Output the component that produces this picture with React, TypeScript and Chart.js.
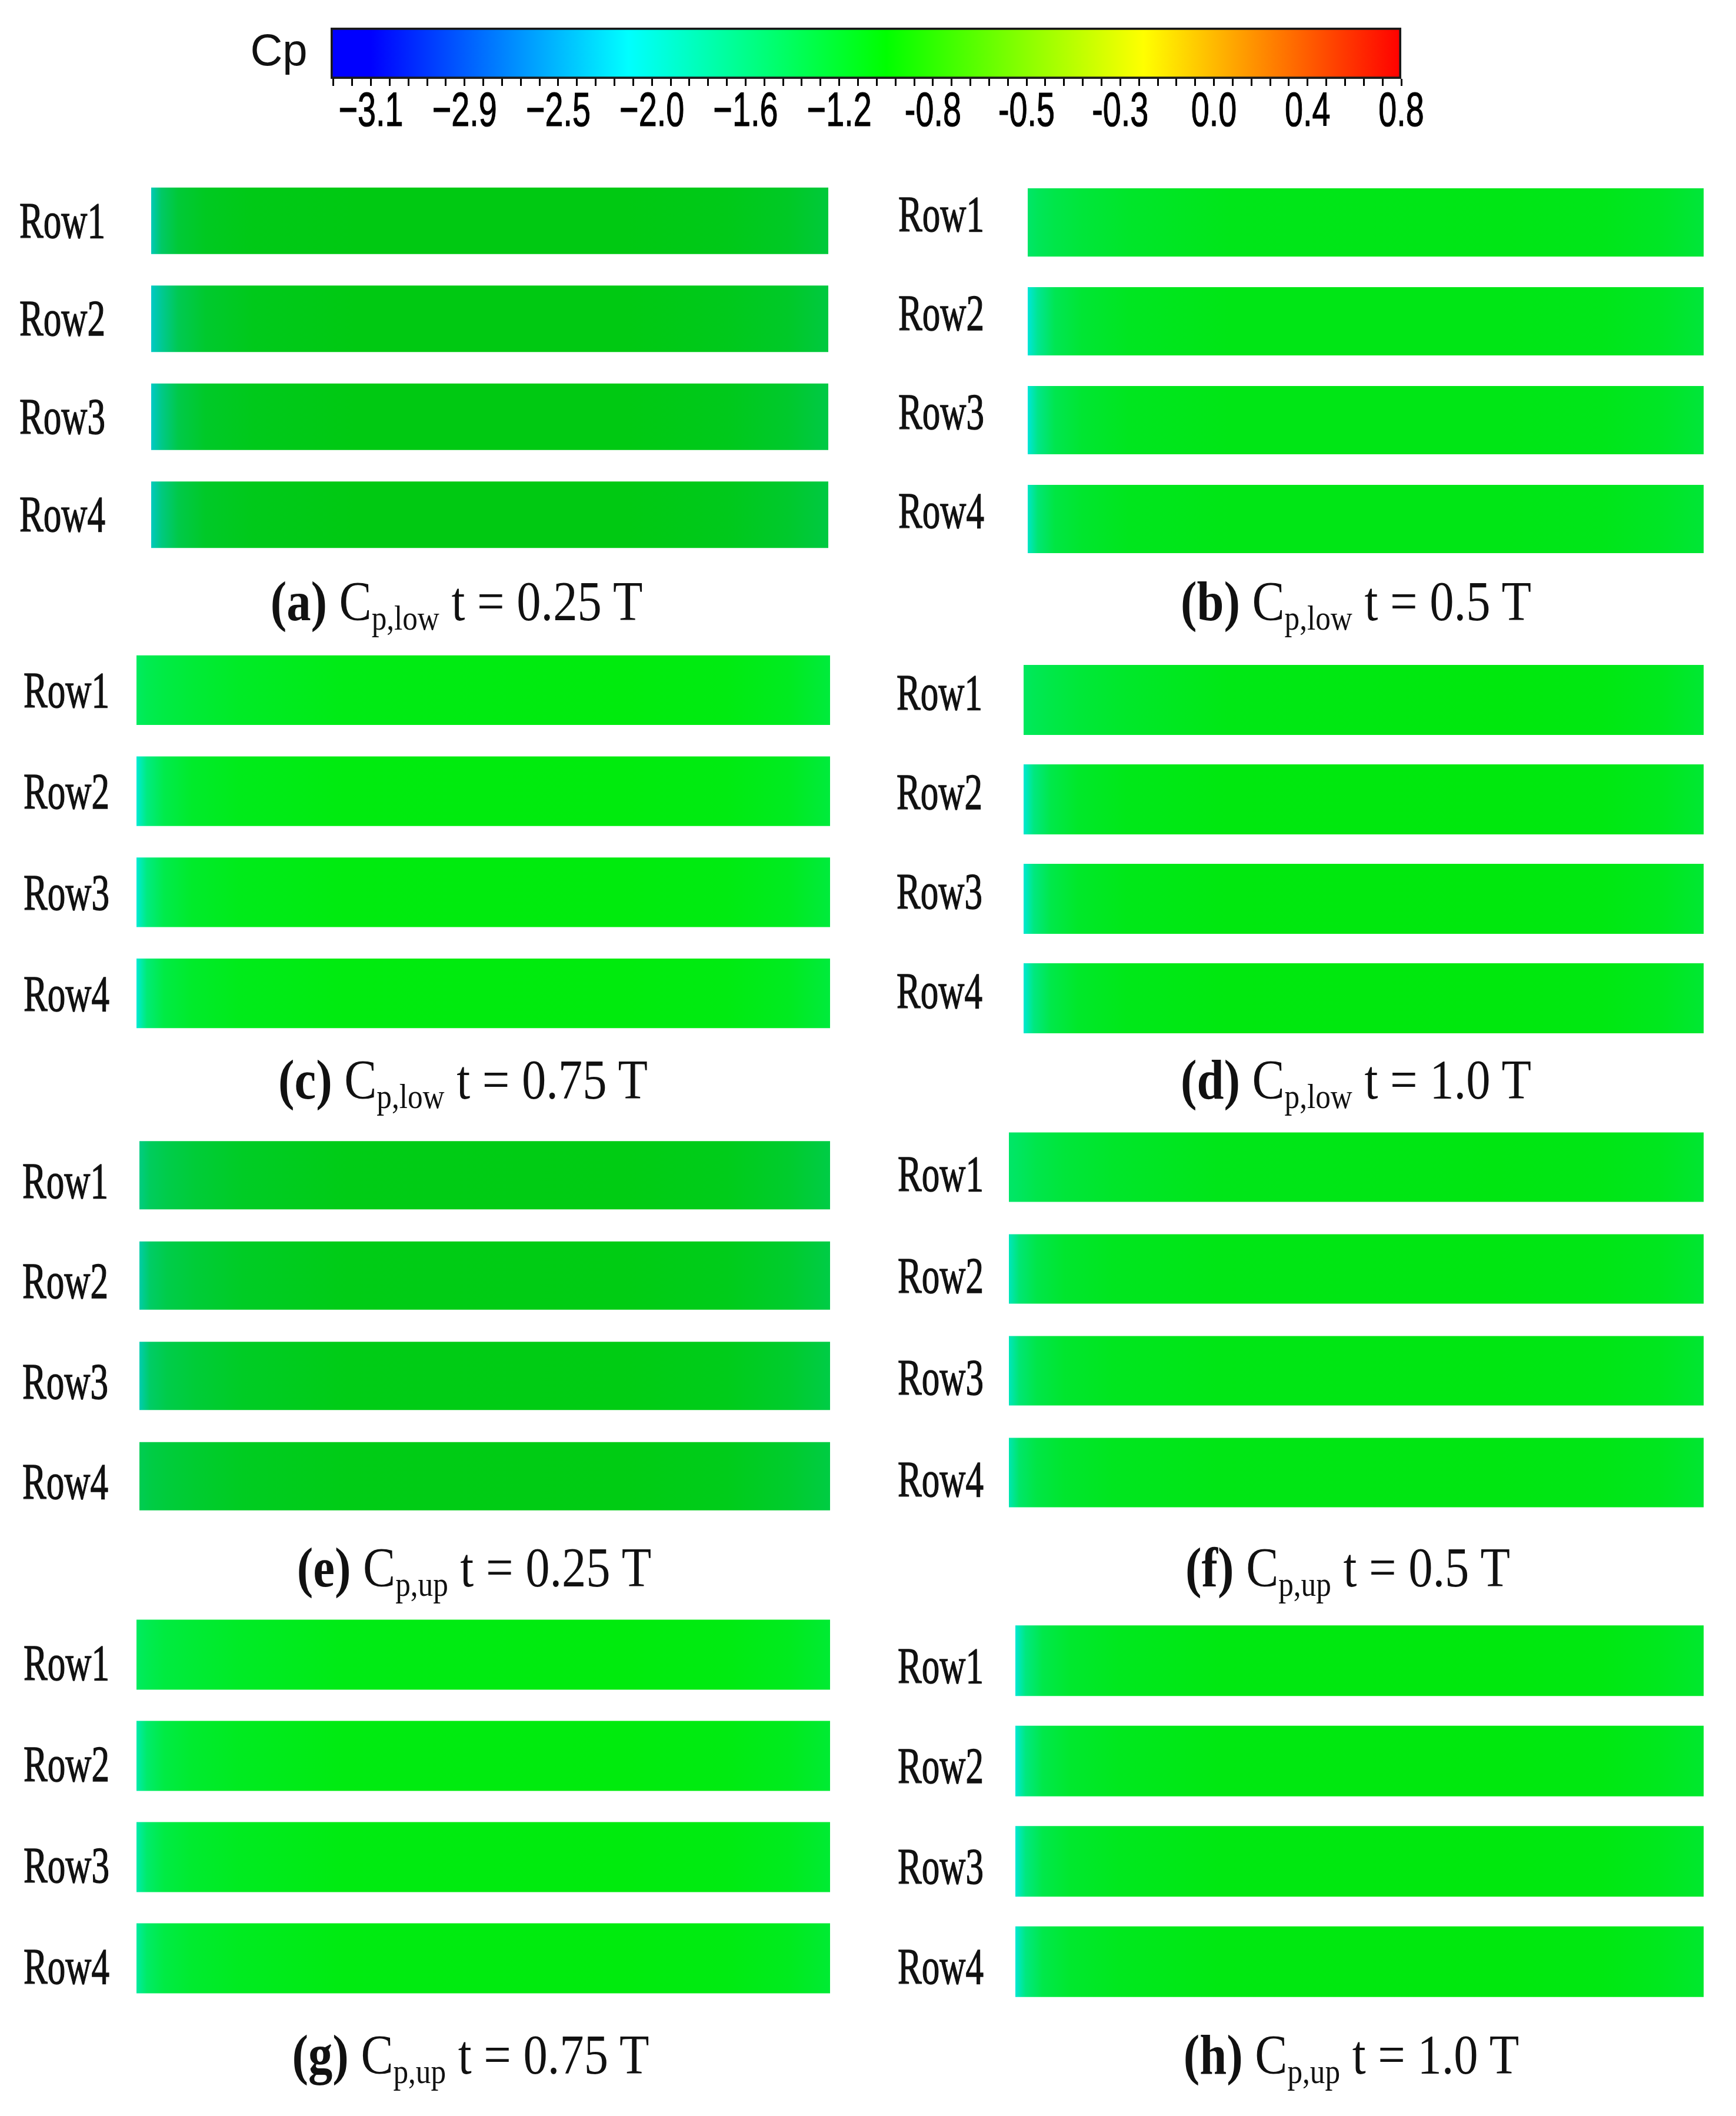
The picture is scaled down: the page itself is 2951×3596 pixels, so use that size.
import React, { useEffect, useRef } from 'react';
import { Chart, registerables } from 'chart.js';

Chart.register(...registerables);

// ---------------- data ----------------
const cpTickValues = [-3.1, -2.9, -2.5, -2.0, -1.6, -1.2, -0.8, -0.5, -0.3, 0.0, 0.4, 0.8];
const cpTickLabels = ['−3.1', '−2.9', '−2.5', '−2.0', '−1.6', '−1.2', '-0.8', '-0.5', '-0.3', '0.0', '0.4', '0.8'];
const colorbarLabel = ['Cp'];
const rowLabels = ['Row1', 'Row2', 'Row3', 'Row4'];
const chordRange = [0, 1];
// chordwise stations (x/c) at which Cp is sampled
const chordStations = [0, 0.015, 0.04, 0.08, 0.15, 0.3, 0.7, 0.85, 0.94, 1.0];

const cpLow025 = [
  [-2.0, -1.55, -1.3, -1.18, -1.12, -1.1, -1.1, -1.13, -1.2, -1.32],
  [-2.1, -1.8, -1.45, -1.25, -1.15, -1.1, -1.1, -1.15, -1.22, -1.35],
  [-2.1, -1.75, -1.4, -1.22, -1.15, -1.1, -1.1, -1.15, -1.24, -1.38],
  [-2.05, -1.7, -1.4, -1.22, -1.14, -1.1, -1.1, -1.15, -1.24, -1.36],
];
const cpLow05 = [
  [-1.5, -1.42, -1.35, -1.28, -1.2, -1.12, -1.1, -1.12, -1.18, -1.28],
  [-2.05, -1.7, -1.4, -1.25, -1.16, -1.1, -1.1, -1.12, -1.18, -1.28],
  [-2.05, -1.65, -1.38, -1.24, -1.15, -1.1, -1.1, -1.12, -1.18, -1.28],
  [-1.95, -1.55, -1.32, -1.22, -1.14, -1.1, -1.1, -1.12, -1.18, -1.26],
];
const cpLow075 = [
  [-1.45, -1.38, -1.32, -1.26, -1.18, -1.1, -1.06, -1.08, -1.15, -1.28],
  [-2.0, -1.6, -1.35, -1.2, -1.12, -1.07, -1.06, -1.08, -1.15, -1.28],
  [-2.0, -1.6, -1.35, -1.2, -1.12, -1.07, -1.06, -1.08, -1.15, -1.28],
  [-2.0, -1.55, -1.32, -1.2, -1.12, -1.07, -1.06, -1.08, -1.15, -1.28],
];
const cpLow10 = [
  [-1.45, -1.4, -1.34, -1.27, -1.2, -1.1, -1.06, -1.08, -1.14, -1.24],
  [-2.0, -1.6, -1.35, -1.2, -1.12, -1.07, -1.06, -1.08, -1.14, -1.24],
  [-2.0, -1.6, -1.35, -1.2, -1.12, -1.07, -1.06, -1.08, -1.14, -1.24],
  [-2.0, -1.6, -1.35, -1.2, -1.12, -1.07, -1.06, -1.08, -1.14, -1.24],
];
const cpUp025 = [
  [-1.7, -1.5, -1.4, -1.3, -1.2, -1.12, -1.1, -1.14, -1.24, -1.38],
  [-1.9, -1.55, -1.4, -1.3, -1.2, -1.12, -1.1, -1.14, -1.24, -1.38],
  [-1.95, -1.55, -1.4, -1.3, -1.2, -1.12, -1.1, -1.14, -1.24, -1.38],
  [-1.45, -1.38, -1.32, -1.26, -1.18, -1.12, -1.1, -1.14, -1.24, -1.36],
];
const cpUp05 = [
  [-1.5, -1.45, -1.36, -1.28, -1.2, -1.12, -1.08, -1.1, -1.15, -1.24],
  [-1.9, -1.55, -1.35, -1.22, -1.15, -1.1, -1.08, -1.1, -1.15, -1.24],
  [-1.9, -1.55, -1.35, -1.22, -1.15, -1.1, -1.08, -1.1, -1.15, -1.24],
  [-1.85, -1.5, -1.33, -1.22, -1.15, -1.1, -1.08, -1.1, -1.15, -1.24],
];
const cpUp075 = [
  [-1.45, -1.38, -1.3, -1.25, -1.18, -1.1, -1.06, -1.08, -1.14, -1.24],
  [-1.8, -1.5, -1.32, -1.22, -1.15, -1.08, -1.06, -1.08, -1.14, -1.24],
  [-1.8, -1.5, -1.32, -1.22, -1.15, -1.08, -1.06, -1.08, -1.14, -1.24],
  [-1.75, -1.48, -1.32, -1.22, -1.15, -1.08, -1.06, -1.08, -1.14, -1.24],
];
const cpUp10 = [
  [-2.0, -1.6, -1.35, -1.22, -1.14, -1.08, -1.06, -1.08, -1.14, -1.22],
  [-2.0, -1.6, -1.35, -1.22, -1.14, -1.08, -1.06, -1.08, -1.14, -1.22],
  [-2.0, -1.6, -1.35, -1.22, -1.14, -1.08, -1.06, -1.08, -1.14, -1.22],
  [-2.0, -1.6, -1.35, -1.22, -1.14, -1.08, -1.06, -1.08, -1.14, -1.22],
];

const panelLetters = ['a', 'b', 'c', 'd', 'e', 'f', 'g', 'h'];
const panelSurfaces = ['low', 'low', 'low', 'low', 'up', 'up', 'up', 'up'];
const panelTimes = ['0.25', '0.5', '0.75', '1.0', '0.25', '0.5', '0.75', '1.0'];
const panelCp = [cpLow025, cpLow05, cpLow075, cpLow10, cpUp025, cpUp05, cpUp075, cpUp10];

// ---------------- style / layout ----------------
const colormapStops: [number, number[]][] = [
  [0, [0, 0, 255]],
  [0.25, [0, 255, 255]],
  [0.5, [0, 255, 0]],
  [0.75, [255, 255, 0]],
  [1, [255, 0, 0]],
];
// colour-bar index axis starts a little before the first label (blue end cap)
const colorbarIndexMin = -0.43;

const panelLayout = [
  { colLeft: 0, barL: 257, barR: 1408, row1Top: 319, row4Bottom: 931, barH: 113, labelX: 106, labelDy: 6, capX: 776, capBase: 1054, shade: 0.79 },
  { colLeft: 1450, barL: 1747, barR: 2896, row1Top: 320, row4Bottom: 940, barH: 116, labelX: 1600, labelDy: -8, capX: 2305, capBase: 1054, shade: 0.9 },
  { colLeft: 0, barL: 232, barR: 1411, row1Top: 1114, row4Bottom: 1747, barH: 118, labelX: 113, labelDy: 7, capX: 787, capBase: 1867, shade: 0.92 },
  { colLeft: 1450, barL: 1740, barR: 2896, row1Top: 1130, row4Bottom: 1756, barH: 119, labelX: 1597, labelDy: -6, capX: 2305, capBase: 1867, shade: 0.91 },
  { colLeft: 0, barL: 237, barR: 1411, row1Top: 1939, row4Bottom: 2567, barH: 116, labelX: 111, labelDy: 16, capX: 806, capBase: 2696, shade: 0.8 },
  { colLeft: 1450, barL: 1715, barR: 2896, row1Top: 1924, row4Bottom: 2561, barH: 118, labelX: 1599, labelDy: 18, capX: 2291, capBase: 2696, shade: 0.9 },
  { colLeft: 0, barL: 232, barR: 1411, row1Top: 2752, row4Bottom: 3387, barH: 119, labelX: 113, labelDy: 20, capX: 800, capBase: 3524, shade: 0.92 },
  { colLeft: 1450, barL: 1726, barR: 2896, row1Top: 2762, row4Bottom: 3394, barH: 120, labelX: 1599, labelDy: 15, capX: 2297, capBase: 3524, shade: 0.91 },
];

const SERIF = '"Liberation Serif", "Times New Roman", serif';
const SANS = '"Liberation Sans", Arial, sans-serif';

// ---------------- helpers ----------------
function cpToFraction(cp: number): number {
  const n = cpTickValues.length;
  if (cp <= cpTickValues[0]) return 0;
  for (let i = 1; i < n; i++) {
    if (cp <= cpTickValues[i]) {
      const t = (cp - cpTickValues[i - 1]) / (cpTickValues[i] - cpTickValues[i - 1]);
      return (i - 1 + t) / (n - 1);
    }
  }
  return 1;
}

function fractionToRgb(f: number, shade = 1): string {
  let c = colormapStops[colormapStops.length - 1][1];
  for (let i = 1; i < colormapStops.length; i++) {
    const [f1, c1] = colormapStops[i];
    const [f0, c0] = colormapStops[i - 1];
    if (f <= f1) {
      const t = Math.max(0, (f - f0) / (f1 - f0));
      c = [0, 1, 2].map((k) => c0[k] + (c1[k] - c0[k]) * t);
      break;
    }
  }
  return `rgb(${Math.round(c[0] * shade)}, ${Math.round(c[1] * shade)}, ${Math.round(c[2] * shade)})`;
}

function drawScaledText(ctx: CanvasRenderingContext2D, text: string, x: number, y: number, sx: number, stroke: number) {
  ctx.save();
  ctx.translate(x, y);
  ctx.scale(sx, 1);
  ctx.fillText(text, 0, 0);
  if (stroke) ctx.strokeText(text, 0, 0);
  ctx.restore();
}

// y-category labels (Row1..Row4, Cp) drawn at the category scale's pixel positions
const categoryLabelPlugin = {
  id: 'categoryLabels',
  afterDraw(chart: any, _args: any, opts: any) {
    const ys = chart.scales.y;
    if (!ys) return;
    const ctx = chart.ctx;
    ctx.save();
    ctx.fillStyle = opts.color || '#111';
    ctx.strokeStyle = opts.color || '#111';
    ctx.lineWidth = opts.stroke || 0;
    ctx.font = opts.font;
    ctx.textAlign = 'center';
    ctx.textBaseline = 'middle';
    (chart.data.labels as string[]).forEach((lab, i) => {
      drawScaledText(ctx, lab, opts.x, ys.getPixelForValue(i) + (opts.dy || 0), opts.scaleX || 1, opts.stroke || 0);
    });
    ctx.restore();
  },
};

// condensed colour-bar tick labels, placed at the x scale's pixel for each index
const condensedTickPlugin = {
  id: 'condensedTicks',
  afterDraw(chart: any, _args: any, opts: any) {
    const xs = chart.scales.x;
    if (!xs || !opts.labels) return;
    const ctx = chart.ctx;
    ctx.save();
    ctx.fillStyle = opts.color || '#000';
    ctx.strokeStyle = opts.color || '#000';
    ctx.lineWidth = opts.stroke || 0;
    ctx.font = opts.font;
    ctx.textAlign = 'center';
    ctx.textBaseline = 'middle';
    (opts.labels as string[]).forEach((lab, i) => {
      drawScaledText(ctx, lab, xs.getPixelForValue(i), xs.top + opts.dy, opts.scaleX || 1, opts.stroke || 0);
    });
    ctx.restore();
  },
};

// ---------------- components ----------------
function ColorBar() {
  const ref = useRef<HTMLCanvasElement>(null);
  const canvasLeft = 380;
  const W = 2100;
  const H = 250;
  useEffect(() => {
    const nTicks = cpTickValues.length;
    const maxIdx = nTicks - 1;
    const chart = new Chart(ref.current as HTMLCanvasElement, {
      type: 'bar',
      data: {
        labels: colorbarLabel,
        datasets: [
          {
            data: [[colorbarIndexMin, maxIdx]] as any,
            backgroundColor: (c: any) => {
              const xs = c.chart.scales.x;
              if (!xs || !c.chart.chartArea) return '#00ff00';
              const p0 = xs.getPixelForValue(colorbarIndexMin);
              const p1 = xs.getPixelForValue(maxIdx);
              const g = c.chart.ctx.createLinearGradient(p0, 0, p1, 0);
              g.addColorStop(0, fractionToRgb(0));
              colormapStops.forEach(([f]) => {
                const px = xs.getPixelForValue(f * maxIdx);
                g.addColorStop((px - p0) / (p1 - p0), fractionToRgb(f));
              });
              return g;
            },
            borderColor: '#1a1a1a',
            borderWidth: 4,
            borderSkipped: false,
            barPercentage: 1,
            categoryPercentage: 1,
          } as any,
        ],
      },
      options: {
        indexAxis: 'y',
        responsive: false,
        animation: false,
        devicePixelRatio: 1,
        layout: { padding: { left: 562 - canvasLeft, right: canvasLeft + W - 2382, top: 47, bottom: 26 } },
        scales: {
          x: {
            type: 'linear',
            min: colorbarIndexMin,
            max: maxIdx,
            position: 'bottom',
            afterBuildTicks: (scale: any) => {
              const sub = 5;
              const ticks: any[] = [];
              for (let k = Math.ceil(colorbarIndexMin * sub); k <= maxIdx * sub; k++) ticks.push({ value: k / sub });
              scale.ticks = ticks;
            },
            afterFit: (scale: any) => {
              scale.height = 90;
            },
            grid: { drawOnChartArea: false, drawTicks: true, tickLength: 12, color: '#000', lineWidth: 3 },
            border: { display: false },
            ticks: { display: false, autoSkip: false, maxRotation: 0 },
          },
          y: { type: 'category', display: false, offset: true },
        },
        plugins: {
          legend: { display: false },
          tooltip: { enabled: false },
          categoryLabels: { x: 474 - canvasLeft, font: `76px ${SANS}`, color: '#111', dy: 0 },
          condensedTicks: { labels: cpTickLabels, font: `82px ${SANS}`, scaleX: 0.68, color: '#000', stroke: 1.2, dy: 57 },
        } as any,
      },
      plugins: [categoryLabelPlugin, condensedTickPlugin],
    });
    return () => chart.destroy();
  }, []);
  return <canvas ref={ref} width={W} height={H} style={{ position: 'absolute', left: canvasLeft, top: 0 }} />;
}

function Panel({ idx }: { idx: number }) {
  const ref = useRef<HTMLCanvasElement>(null);
  const L = panelLayout[idx];
  const pitch = (L.row4Bottom - L.row1Top - L.barH) / 3;
  const areaTop = Math.round(L.row1Top + L.barH / 2 - pitch / 2);
  const areaBottom = Math.round(L.row4Bottom - L.barH / 2 + pitch / 2);
  const canvasLeft = L.colLeft;
  const rightPad = 20;
  const W = L.barR + rightPad - canvasLeft;
  const H = areaBottom - areaTop;
  const cpRows = panelCp[idx];

  useEffect(() => {
    const chart = new Chart(ref.current as HTMLCanvasElement, {
      type: 'bar',
      data: {
        labels: rowLabels,
        datasets: [
          {
            data: rowLabels.map(() => [chordRange[0], chordRange[1]]) as any,
            backgroundColor: (c: any) => {
              const xs = c.chart.scales.x;
              if (!xs || !c.chart.chartArea || c.dataIndex === undefined) return fractionToRgb(0.48, L.shade);
              const row = cpRows[c.dataIndex];
              const x0 = xs.getPixelForValue(chordRange[0]);
              const x1 = xs.getPixelForValue(chordRange[1]);
              const g = c.chart.ctx.createLinearGradient(x0, 0, x1, 0);
              chordStations.forEach((s, k) => {
                const px = xs.getPixelForValue(s);
                g.addColorStop(Math.min(1, Math.max(0, (px - x0) / (x1 - x0))), fractionToRgb(cpToFraction(row[k]), L.shade));
              });
              return g;
            },
            borderWidth: 0,
            barPercentage: L.barH / pitch,
            categoryPercentage: 1,
          } as any,
        ],
      },
      options: {
        indexAxis: 'y',
        responsive: false,
        animation: false,
        devicePixelRatio: 1,
        layout: { padding: { left: L.barL - canvasLeft, right: rightPad, top: 0, bottom: 0 } },
        scales: {
          x: { type: 'linear', min: chordRange[0], max: chordRange[1], display: false },
          y: { type: 'category', display: false, offset: true },
        },
        plugins: {
          legend: { display: false },
          tooltip: { enabled: false },
          categoryLabels: { x: L.labelX - canvasLeft, font: `86px ${SERIF}`, scaleX: 0.71, color: '#111', stroke: 1.4, dy: L.labelDy },
        } as any,
      },
      plugins: [categoryLabelPlugin],
    });
    return () => chart.destroy();
  }, []);

  const capSize = 96;
  return (
    <>
      <canvas ref={ref} width={W} height={H} style={{ position: 'absolute', left: canvasLeft, top: areaTop }} />
      <div
        style={{
          position: 'absolute',
          left: L.capX,
          top: L.capBase - 0.8375 * capSize,
          transform: 'translateX(-50%) scaleX(0.86)',
          fontFamily: SERIF,
          fontSize: capSize,
          lineHeight: `${capSize}px`,
          whiteSpace: 'nowrap',
          color: '#111',
        }}
      >
        <b>({panelLetters[idx]})</b> C
        <span style={{ fontSize: '0.62em', position: 'relative', top: '0.28em' }}>p,{panelSurfaces[idx]}</span> t = {panelTimes[idx]} T
      </div>
    </>
  );
}

export default function App() {
  return (
    <div style={{ position: 'absolute', left: 0, top: 0, width: 2951, height: 3596, background: '#fff', overflow: 'hidden' }}>
      <ColorBar />
      {panelLayout.map((_, i) => (
        <Panel key={i} idx={i} />
      ))}
    </div>
  );
}
